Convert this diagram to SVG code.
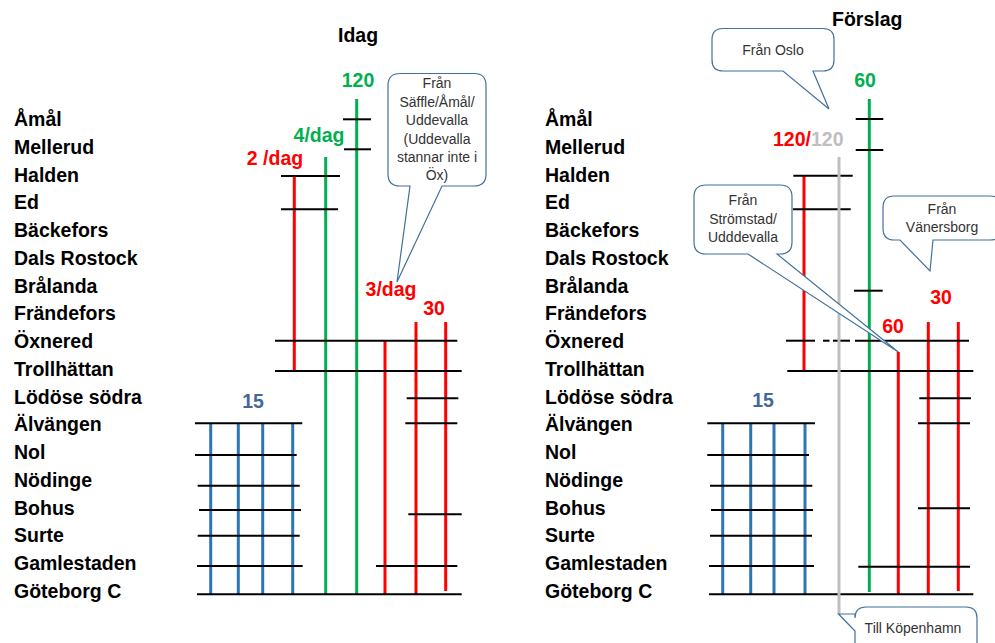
<svg xmlns="http://www.w3.org/2000/svg" width="995" height="643" viewBox="0 0 995 643">
<style>
.st{font-family:"Liberation Sans",Arial,sans-serif;font-weight:bold;font-size:19.5px;fill:#000}
.ttl{font-family:"Liberation Sans",Arial,sans-serif;font-weight:bold;font-size:19.5px;fill:#000}
.lbl{font-family:"Liberation Sans",Arial,sans-serif;font-weight:bold;font-size:19.5px;text-anchor:middle}
.ct{font-family:"Liberation Sans",Arial,sans-serif;font-size:14px;fill:#333;text-anchor:middle}
.k{stroke:#000;stroke-width:2;fill:none}
.r{stroke:#ff0000;stroke-width:3;fill:none}
.g{stroke:#00b050;stroke-width:3;fill:none}
.b{stroke:#2e75b6;stroke-width:3;fill:none}
.gy{stroke:#bfbfbf;stroke-width:3;fill:none}
.co{fill:#fff;stroke:#41719c;stroke-width:1.2}
.red{fill:#ff0000}.grn{fill:#00b050}.gry{fill:#bfbfbf}.blu{fill:#44689a}
</style>
<rect width="995" height="643" fill="#fff"/>

<g id="titles">
<text class="ttl" x="338" y="42">Idag</text>
<text class="ttl" x="832" y="26">Förslag</text>
</g>

<g id="stations-left" class="st">
<text x="14" y="126">Åmål</text>
<text x="14" y="154">Mellerud</text>
<text x="14" y="181.5">Halden</text>
<text x="14" y="209.3">Ed</text>
<text x="14" y="237">Bäckefors</text>
<text x="14" y="264.8">Dals Rostock</text>
<text x="14" y="292.6">Brålanda</text>
<text x="14" y="320.3">Frändefors</text>
<text x="14" y="348.1">Öxnered</text>
<text x="14" y="375.8">Trollhättan</text>
<text x="14" y="403.6">Lödöse södra</text>
<text x="14" y="431.4">Älvängen</text>
<text x="14" y="459.1">Nol</text>
<text x="14" y="486.9">Nödinge</text>
<text x="14" y="514.6">Bohus</text>
<text x="14" y="542.4">Surte</text>
<text x="14" y="570.2">Gamlestaden</text>
<text x="14" y="597.9">Göteborg C</text>
</g>

<g id="stations-right" class="st">
<text x="545" y="126">Åmål</text>
<text x="545" y="154">Mellerud</text>
<text x="545" y="181.5">Halden</text>
<text x="545" y="209.3">Ed</text>
<text x="545" y="237">Bäckefors</text>
<text x="545" y="264.8">Dals Rostock</text>
<text x="545" y="292.6">Brålanda</text>
<text x="545" y="320.3">Frändefors</text>
<text x="545" y="348.1">Öxnered</text>
<text x="545" y="375.8">Trollhättan</text>
<text x="545" y="403.6">Lödöse södra</text>
<text x="545" y="431.4">Älvängen</text>
<text x="545" y="459.1">Nol</text>
<text x="545" y="486.9">Nödinge</text>
<text x="545" y="514.6">Bohus</text>
<text x="545" y="542.4">Surte</text>
<text x="545" y="570.2">Gamlestaden</text>
<text x="545" y="597.9">Göteborg C</text>
</g>

<g id="connectors">
<!-- left: blue 15 lines -->
<line class="b" x1="210.7" y1="423" x2="210.7" y2="594"/>
<line class="b" x1="238.3" y1="423" x2="238.3" y2="594"/>
<line class="b" x1="262.7" y1="423" x2="262.7" y2="594"/>
<line class="b" x1="292.7" y1="423" x2="292.7" y2="594"/>
<!-- left: red / green -->
<line class="r" x1="294.3" y1="176" x2="294.3" y2="371"/>
<line class="g" x1="325.7" y1="157" x2="325.7" y2="594"/>
<line class="g" x1="356.7" y1="99" x2="356.7" y2="594"/>
<line class="r" x1="385" y1="341" x2="385" y2="594"/>
<line class="r" x1="416" y1="322" x2="416" y2="594"/>
<line class="r" x1="445.7" y1="322" x2="445.7" y2="591"/>
<!-- left: black station lines -->
<line class="k" x1="343" y1="119.3" x2="371" y2="119.3"/>
<line class="k" x1="344" y1="149.3" x2="371" y2="149.3"/>
<line class="k" x1="281" y1="176" x2="340" y2="176"/>
<line class="k" x1="281" y1="209.3" x2="338" y2="209.3"/>
<line class="k" x1="275" y1="340.7" x2="457.3" y2="340.7"/>
<line class="k" x1="275" y1="371" x2="461.7" y2="371"/>
<line class="k" x1="406.7" y1="398.3" x2="458.3" y2="398.3"/>
<line class="k" x1="195" y1="423.3" x2="302.3" y2="423.3"/>
<line class="k" x1="405.3" y1="423.3" x2="457.3" y2="423.3"/>
<line class="k" x1="195" y1="455" x2="296.7" y2="455"/>
<line class="k" x1="197.7" y1="485.7" x2="299.7" y2="485.7"/>
<line class="k" x1="199" y1="510" x2="301" y2="510"/>
<line class="k" x1="408.3" y1="514.3" x2="461.7" y2="514.3"/>
<line class="k" x1="197.7" y1="535.7" x2="299.7" y2="535.7"/>
<line class="k" x1="197" y1="566" x2="302.7" y2="566"/>
<line class="k" x1="376" y1="566" x2="457.3" y2="566"/>
<line class="k" x1="197" y1="594.3" x2="461.7" y2="594.3"/>

<!-- right: blue 15 lines -->
<line class="b" x1="722.7" y1="423" x2="722.7" y2="594"/>
<line class="b" x1="750.7" y1="423" x2="750.7" y2="594"/>
<line class="b" x1="774" y1="423" x2="774" y2="594"/>
<line class="b" x1="805" y1="423" x2="805" y2="594"/>
<!-- right: colored lines -->
<line class="r" x1="804" y1="176" x2="804" y2="371"/>
<line class="g" x1="869.3" y1="99" x2="869.3" y2="592"/>
<line class="r" x1="898.3" y1="352" x2="898.3" y2="594"/>
<line class="r" x1="928.3" y1="322" x2="928.3" y2="594"/>
<line class="r" x1="958.3" y1="322" x2="958.3" y2="591"/>
<!-- right: black station lines -->
<line class="k" x1="855.7" y1="119" x2="883.3" y2="119"/>
<line class="k" x1="855.7" y1="150" x2="883.3" y2="150"/>
<line class="k" x1="793.3" y1="175.7" x2="852.7" y2="175.7"/>
<line class="k" x1="793" y1="209.3" x2="850.7" y2="209.3"/>
<line class="k" x1="854" y1="290.7" x2="882.7" y2="290.7"/>
<line class="k" x1="786" y1="340.7" x2="815" y2="340.7"/>
<line class="k" x1="823" y1="340.7" x2="829.5" y2="340.7"/>
<line class="k" x1="833" y1="340.7" x2="850" y2="340.7"/>
<line class="k" x1="855" y1="340.7" x2="969" y2="340.7"/>
<line class="k" x1="787.3" y1="371" x2="973.3" y2="371"/>
<line class="k" x1="919.3" y1="398.3" x2="971" y2="398.3"/>
<line class="k" x1="707.3" y1="423.3" x2="815" y2="423.3"/>
<line class="k" x1="918" y1="423.3" x2="970" y2="423.3"/>
<line class="k" x1="707.3" y1="455" x2="809" y2="455"/>
<line class="k" x1="710" y1="485.7" x2="812.3" y2="485.7"/>
<line class="k" x1="711" y1="510" x2="813" y2="510"/>
<line class="k" x1="918" y1="508.3" x2="970" y2="508.3"/>
<line class="k" x1="710" y1="535.7" x2="812" y2="535.7"/>
<line class="k" x1="709" y1="566" x2="814" y2="566"/>
<line class="k" x1="858.3" y1="566.7" x2="970" y2="566.7"/>
<line class="k" x1="709" y1="594.3" x2="973.3" y2="594.3"/>
<!-- gray line on top -->
<line class="gy" x1="839" y1="157" x2="839" y2="614"/>
</g>

<g id="line-labels" class="lbl">
<text class="grn" x="358" y="87">120</text>
<text class="grn" x="319" y="142">4/dag</text>
<text class="red" x="275" y="165">2 /dag</text>
<text class="red" x="391" y="296">3/dag</text>
<text class="red" x="434" y="315">30</text>
<text class="blu" x="253" y="408">15</text>
<text class="grn" x="865" y="87">60</text>
<text x="773" y="146" style="text-anchor:start"><tspan class="red">120/</tspan><tspan class="gry">120</tspan></text>
<text class="red" x="893" y="333">60</text>
<text class="red" x="941" y="304">30</text>
<text class="blu" x="763" y="407">15</text>
</g>

<g id="callout-saffle">
<path class="co" d="M400,73.5 H474 Q486,73.5 486,85.5 V174 Q486,186 474,186 H442 L397,282 L410,186 H400 Q388,186 388,174 V85.5 Q388,73.5 400,73.5 Z"/>
<text class="ct" x="437" y="88">Från</text>
<text class="ct" x="437" y="106.5">Säffle/Åmål/</text>
<text class="ct" x="437" y="125">Uddevalla</text>
<text class="ct" x="437" y="143.5">(Uddevalla</text>
<text class="ct" x="437" y="162">stannar inte i</text>
<text class="ct" x="437" y="180">Öx)</text>
</g>

<g id="callout-oslo">
<path class="co" d="M723,28.5 H823 Q834,28.5 834,39.5 V60 Q834,71 823,71 H813 L829,109 L783,71 H723 Q712,71 712,60 V39.5 Q712,28.5 723,28.5 Z"/>
<text class="ct" x="773" y="55">Från Oslo</text>
</g>

<g id="callout-stromstad">
<path class="co" d="M706,185 H780 Q792,185 792,197 V242 Q792,254 780,254 H777 L898.3,352 L748,254 H706 Q694,254 694,242 V197 Q694,185 706,185 Z"/>
<text class="ct" x="743" y="205">Från</text>
<text class="ct" x="743" y="224">Strömstad/</text>
<text class="ct" x="743" y="242">Udddevalla</text>
</g>

<g id="callout-vanersborg">
<path class="co" d="M894,196 H990 Q1002,196 1002,208 V228 Q1002,240 990,240 H933 L930,271 L900,240 H894 Q883,240 883,228 V208 Q883,196 894,196 Z"/>
<text class="ct" x="942" y="214">Från</text>
<text class="ct" x="942" y="232">Vänersborg</text>
</g>

<g id="callout-kopenhamn">
<path class="co" d="M866,607 H966 Q977,607 977,618 V660 H855 V631 L838.5,614 L855,614 V618 Q855,607 866,607 Z"/>
<text class="ct" x="913" y="633">Till Köpenhamn</text>
</g>
</svg>
